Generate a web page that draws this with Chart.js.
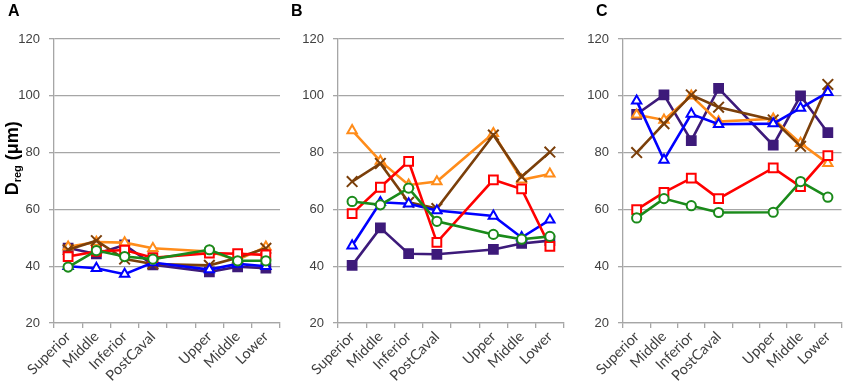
<!DOCTYPE html>
<html>
<head>
<meta charset="utf-8">
<script src="https://cdn.jsdelivr.net/npm/chart.js@4/dist/chart.umd.min.js"></script>
<style>
  html, body { margin: 0; padding: 0; background: #fff; }
  #wrap { position: relative; width: 851px; height: 385px; overflow: hidden; font-family: Lato, "Liberation Sans", sans-serif; }
  .pane { position: absolute; top: 0; height: 385px; }
  .letter { position: absolute; top: 2px; font: bold 16px "Liberation Sans", Arial, sans-serif; color: #000; }
</style>
</head>
<body>
<div id="wrap">
  <div class="pane" style="left:0;width:290px"><canvas id="cA"></canvas></div>
  <div class="pane" style="left:285px;width:290px"><canvas id="cB"></canvas></div>
  <div class="pane" style="left:565px;width:286px"><canvas id="cC"></canvas></div>
  <div class="letter" style="left:8px">A</div>
  <div class="letter" style="left:291px">B</div>
  <div class="letter" style="left:596px">C</div>
</div>
<script>
// ---- categories / ticks ----
const categories = ['Superior', 'Middle', 'Inferior', 'PostCaval', '', 'Upper', 'Middle', 'Lower'];
const yTicks = [20, 40, 60, 80, 100, 120];
const yTitleMain = 'D';
const yTitleSub = 'reg';
const yTitleUnit = ' (\u03bcm)';

// ---- panel A ----
const A_purple = [46.4, 44.3, 47.5, 40.5, null, 38.0, 39.8, 39.3];
const A_blue   = [40.0, 39.3, 37.2, 41.3, null, 38.8, 40.8, 40.0];
const A_red    = [43.4, 45.2, 45.7, 43.0, null, 44.6, 44.4, 44.0];
const A_green  = [39.7, 45.5, 43.4, 42.5, null, 45.8, 41.9, 41.9];
const A_orange = [46.8, 48.5, 48.3, 46.3, null, 45.2, 42.2, 46.8];
const A_brown  = [45.8, 49.0, 42.5, 40.8, null, 40.3, 43.0, 46.3];

// ---- panel B ----
const B_purple = [40.3, 53.5, 44.4, 44.2, null, 45.9, 48.0, 49.0];
const B_blue   = [47.2, 62.5, 62.0, 59.6, null, 57.7, 50.1, 56.3];
const B_red    = [58.5, 67.8, 76.9, 48.4, null, 70.4, 67.2, 47.0];
const B_green  = [62.8, 61.6, 67.5, 55.8, null, 51.2, 49.5, 50.5];
const B_orange = [87.8, 77.0, 68.6, 69.8, null, 86.8, 70.4, 72.5];
const B_brown  = [69.8, 76.2, 62.5, 60.3, null, 86.2, 71.5, 80.2];

// ---- panel C ----
const C_purple = [93.5, 100.3, 84.2, 102.6, null, 82.6, 100.0, 87.0];
const C_blue   = [98.2, 77.4, 93.6, 90.0, null, 90.2, 95.7, 101.2];
const C_red    = [59.9, 66.0, 71.0, 63.8, null, 74.6, 68.0, 78.9];
const C_green  = [57.0, 63.8, 61.3, 58.9, null, 59.0, 69.8, 64.3];
const C_orange = [93.3, 91.5, 100.0, 90.9, null, 91.9, 83.3, 76.2];
const C_brown  = [80.0, 90.2, 100.3, 96.0, null, 91.5, 82.2, 104.0];

// ---- styles ----
const COL = {
  purple: '#3D1A7A', blue: '#0000FF', red: '#FF0000',
  green: '#1A8A1A', orange: '#FF8C1A', brown: '#7B3F0A'
};
const GRID = '#A6A6A6';
const TXT = '#404040';

function ds(data, color, style, filled, radius, order) {
  return {
    data: data,
    borderColor: color,
    backgroundColor: filled ? color : '#FFFFFF',
    pointBackgroundColor: filled ? color : '#FFFFFF',
    pointBorderColor: color,
    pointStyle: style,
    pointRadius: radius,
    pointHoverRadius: radius,
    pointBorderWidth: 2,
    borderWidth: 2.6,
    spanGaps: true,
    tension: 0,
    order: order
  };
}

function datasets(p, b, r, g, o, br) {
  return [
    ds(g, COL.green, 'circle', false, 4.6, 1),
    ds(r, COL.red, 'rect', false, 6.2, 2),
    ds(b, COL.blue, 'triangle', false, 5.4, 3),
    ds(br, COL.brown, 'crossRot', false, 7.5, 4),
    ds(o, COL.orange, 'triangle', false, 5.4, 5),
    ds(p, COL.purple, 'rect', true, 6.2, 6)
  ];
}

const yTitlePlugin = {
  id: 'yTitleSub',
  afterDraw(chart, args, opts) {
    if (!opts.show) return;
    const ctx = chart.ctx;
    const area = chart.chartArea;
    const cx = 13;
    const cy = area.top + (area.bottom - area.top) * 0.42;
    const fMain = 'bold 18px "Liberation Sans", Arial, sans-serif';
    const fSub = 'bold 11px "Liberation Sans", Arial, sans-serif';
    ctx.save();
    ctx.font = fMain; const wD = ctx.measureText(yTitleMain).width;
    const wU = ctx.measureText(yTitleUnit).width;
    ctx.font = fSub; const wS = ctx.measureText(yTitleSub).width;
    const total = wD + wS + wU;
    ctx.translate(cx, cy);
    ctx.rotate(-Math.PI / 2);
    ctx.fillStyle = '#000';
    ctx.textBaseline = 'middle';
    ctx.textAlign = 'left';
    let x = -total / 2;
    ctx.font = fMain; ctx.fillText(yTitleMain, x, 0); x += wD;
    ctx.font = fSub; ctx.fillText(yTitleSub, x, 5); x += wS;
    ctx.font = fMain; ctx.fillText(yTitleUnit, x, 0);
    ctx.restore();
  }
};

function makeChart(id, sets, yWidth, padRight, showTitle) {
  new Chart(document.getElementById(id), {
    type: 'line',
    data: { labels: categories, datasets: sets },
    plugins: [yTitlePlugin],
    options: {
      responsive: true,
      maintainAspectRatio: false,
      animation: false,
      events: [],
      layout: { padding: { top: 39, right: padRight, left: 0, bottom: 0 } },
      plugins: {
        legend: { display: false },
        tooltip: { enabled: false },
        yTitleSub: { show: showTitle }
      },
      scales: {
        x: {
          type: 'category',
          offset: true,
          afterFit(s) { s.height = 62; },
          grid: { display: true, drawOnChartArea: false, drawTicks: true, tickLength: 5, color: GRID, offset: true, lineWidth: 1.3 },
          border: { display: true, color: GRID, width: 1.3 },
          ticks: {
            autoSkip: false, maxRotation: 45, minRotation: 45, padding: 0,
            color: TXT, font: { family: 'Lato, "Liberation Sans", sans-serif', size: 14.5 }
          }
        },
        y: {
          min: 20, max: 120,
          afterFit(s) { s.width = yWidth; },
          afterBuildTicks(s) { s.ticks = yTicks.map(v => ({ value: v })); },
          grid: { color: GRID, lineWidth: 1.3, drawTicks: true, tickLength: 5 },
          border: { display: true, color: GRID, width: 1.3 },
          ticks: {
            padding: 9, color: TXT,
            font: { family: '"Liberation Sans", Arial, sans-serif', size: 13 }
          }
        }
      }
    }
  });
}

makeChart('cA', datasets(A_purple, A_blue, A_red, A_green, A_orange, A_brown), 54, 10, true);
makeChart('cB', datasets(B_purple, B_blue, B_red, B_green, B_orange, B_brown), 53, 11, false);
makeChart('cC', datasets(C_purple, C_blue, C_red, C_green, C_orange, C_brown), 58, 7, false);
</script>
</body>
</html>
